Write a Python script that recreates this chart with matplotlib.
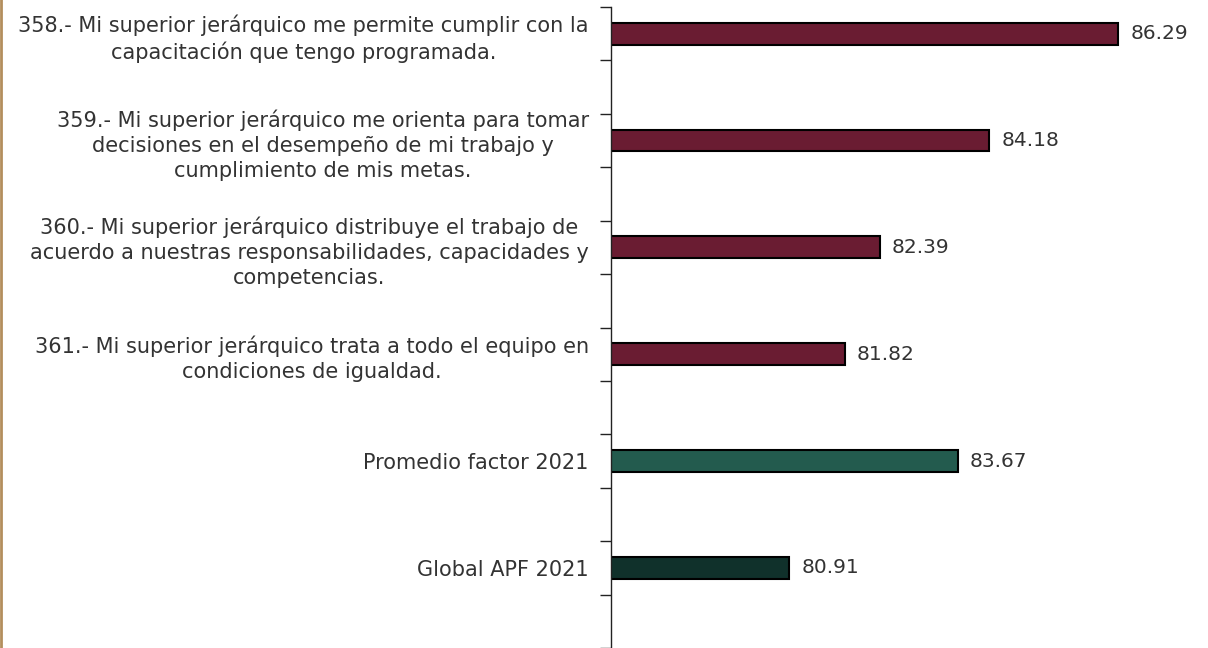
import matplotlib
matplotlib.use("Agg")
import matplotlib.pyplot as plt
from matplotlib.ticker import FixedLocator

# data
labels = [
    "358.- Mi superior jerárquico me permite cumplir con la\ncapacitación que tengo programada.",
    "359.- Mi superior jerárquico me orienta para tomar\ndecisiones en el desempeño de mi trabajo y\ncumplimiento de mis metas.",
    "360.- Mi superior jerárquico distribuye el trabajo de\nacuerdo a nuestras responsabilidades, capacidades y\ncompetencias.",
    "361.- Mi superior jerárquico trata a todo el equipo en\ncondiciones de igualdad.",
    "Promedio factor 2021",
    "Global APF 2021",
]
values = [86.29, 84.18, 82.39, 81.82, 83.67, 80.91]
colors = ["#6A1C32", "#6A1C32", "#6A1C32", "#6A1C32", "#235B4E", "#10312B"]

text_color = "#333333"
plt.rcParams['font.family'] = ['DejaVu Sans']

fig = plt.figure(figsize=(12.08, 6.48), dpi=100)
ax = fig.add_axes([611 / 1208, 0.0, 1 - 611 / 1208, 1 - 7 / 648])

# every bar sits in its own slot with an empty slot after it
pos = [2 * i for i in range(len(values))]
ax.barh(pos, values, height=0.41, color=colors, edgecolor="black", linewidth=1.5, left=0)

ax.set_xlim(78, 87.76)
ax.set_ylim(len(values) * 2 - 0.5, -0.5)

for p, v in zip(pos, values):
    ax.text(v + 0.2, p, f"{v:.2f}", va="center", ha="left", fontsize=14.5, color=text_color)

ax.set_yticks(pos)
ax.set_yticklabels(labels, fontsize=15, color=text_color, linespacing=1.32)
for lab in ax.get_yticklabels():
    lab.set_multialignment("center")
ax.yaxis.set_minor_locator(FixedLocator([k - 0.5 for k in range(len(values) * 2 + 1)]))
ax.tick_params(axis="y", which="major", length=0, pad=16)
ax.tick_params(axis="y", which="minor", length=8, width=1, color="#222222")

ax.set_xticks([])
for s in ["top", "right", "bottom"]:
    ax.spines[s].set_visible(False)
ax.spines["left"].set_color("#222222")
ax.spines["left"].set_linewidth(1)

# gold rule on the left edge
fig.add_artist(plt.Line2D([0.001, 0.001], [0, 1], color="#B38E5D", linewidth=2, transform=fig.transFigure))

fig.savefig("out.png", dpi=100)
